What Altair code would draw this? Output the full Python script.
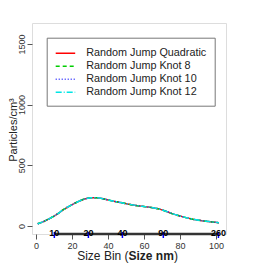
import altair as alt
import pandas as pd

series_names = ["Random Jump Quadratic", "Random Jump Knot 8", "Random Jump Knot 10", "Random Jump Knot 12"]
series_colors = ["#FF0000", "#00CD00", "#3333FF", "#00E5E5"]
series_dashes = [[1, 0], [4, 3], [1, 2], [6, 2, 1, 2]]

size_bin = [1, 5, 8, 12, 15, 19, 23, 27, 31, 34, 38, 42, 46, 50, 55, 60, 65, 68, 72, 76, 80, 84, 88, 92, 96, 101.5]
particles = [18, 42, 65, 100, 132, 167, 198, 222, 233, 232, 222, 208, 196, 184, 170, 160, 150, 141, 122, 100, 82, 66, 53, 44, 36, 27]

x_ticks = [0, 20, 40, 60, 80, 100]
y_ticks = [0, 500, 1000, 1500]

nm_tick_pos = [10.2, 29.1, 48.0, 70.7, 101.3]
nm_tick_lab = ["10", "20", "40", "90", "260"]

rows = []
for s in series_names:
    for xv, yv in zip(size_bin, particles):
        rows.append({"series": s, "bin": xv, "val": yv})
df = pd.DataFrame(rows)
ticks_df = pd.DataFrame({"pos": nm_tick_pos, "lab": nm_tick_lab})
span_df = pd.DataFrame({"a": [nm_tick_pos[0]], "b": [nm_tick_pos[-1]]})

xscale = alt.Scale(domain=[-2.2, 105.5], nice=False, zero=False)
yscale = alt.Scale(domain=[-66, 1672], nice=False, zero=False)

FONT = "Liberation Sans"

x_axis = alt.Axis(values=x_ticks, title=None, domain=False,
                  tickSize=5, tickColor="#555", labelFontSize=9, labelColor="#333",
                  labelPadding=2, grid=False, labelFont=FONT,
                  labelOverlap=False, labelFlush=False, labelBound=False)
y_axis = alt.Axis(values=y_ticks, title=None, domain=False, format="d",
                  tickSize=5, tickColor="#555", labelFontSize=9, labelColor="#333",
                  labelAngle=270, labelAlign="center", labelBaseline="alphabetic",
                  labelPadding=2.5, grid=False, labelFont=FONT,
                  labelOverlap=False, labelFlush=False, labelBound=False)

legend_cfg = dict(title=None, orient="none", legendX=14.7, legendY=14.7,
                  strokeColor="#777", padding=8, symbolType="M-1,0H2",
                  symbolSize=169, symbolStrokeWidth=1.5, labelFontSize=10.8,
                  labelFont=FONT, labelColor="#222", labelOffset=16.5,
                  rowPadding=0, fillColor="white", labelLimit=300)

lines = alt.Chart(df).mark_line(strokeWidth=1.5, interpolate="monotone").encode(
    x=alt.X("bin:Q", scale=xscale, axis=x_axis),
    y=alt.Y("val:Q", scale=yscale, axis=y_axis),
    color=alt.Color("series:N", scale=alt.Scale(domain=series_names, range=series_colors),
                    legend=alt.Legend(**legend_cfg)),
    strokeDash=alt.StrokeDash("series:N", scale=alt.Scale(domain=series_names, range=series_dashes),
                              legend=alt.Legend(**legend_cfg)),
    order=alt.Order("series_order:Q"),
).transform_calculate(
    series_order="indexof(" + str(series_names) + ", datum.series)"
)

span = alt.Chart(span_df).mark_rule(color="#333", strokeWidth=2.5).encode(
    x=alt.X("a:Q", scale=xscale, axis=x_axis), x2="b:Q", y=alt.value(211))

blue_ticks = alt.Chart(ticks_df).mark_rule(color="#0000FF", strokeWidth=1.5).encode(
    x=alt.X("pos:Q", scale=xscale, axis=x_axis), y=alt.value(209), y2=alt.value(215))

tick_labels = alt.Chart(ticks_df).mark_text(fontSize=9, fontWeight="bold", font=FONT,
                                            color="black", baseline="middle", align="center").encode(
    x=alt.X("pos:Q", scale=xscale, axis=x_axis), y=alt.value(210), text="lab:N")

t1 = alt.Chart(span_df).mark_text(text="Size Bin (", fontSize=12, font=FONT, align="left",
                                  baseline="alphabetic", color="#222").encode(
    x=alt.value(45.2), y=alt.value(237))
t2 = alt.Chart(span_df).mark_text(text="Size nm", fontSize=12, font=FONT, fontWeight="bold",
                                  align="left", baseline="alphabetic", color="#222").encode(
    x=alt.value(96.5), y=alt.value(237))
t3 = alt.Chart(span_df).mark_text(text=")", fontSize=12, font=FONT, align="left",
                                  baseline="alphabetic", color="#222").encode(
    x=alt.value(141.9), y=alt.value(237))
ytitle = alt.Chart(span_df).mark_text(text="Particles/cm³", fontSize=11, font=FONT, angle=270,
                                      align="center", baseline="alphabetic", color="#222").encode(
    x=alt.value(-15), y=alt.value(107))

chart = alt.layer(lines, span, blue_ticks, tick_labels, t1, t2, t3, ytitle).properties(
    width=194, height=211,
    autosize=alt.AutoSizeParams(type="none"),
    padding={"left": 24, "top": 15, "right": 30, "bottom": 30},
).configure_view(stroke="#777", strokeWidth=1).configure(background="white")

chart.save("out.html", embed_options={"renderer": "svg", "actions": False})
